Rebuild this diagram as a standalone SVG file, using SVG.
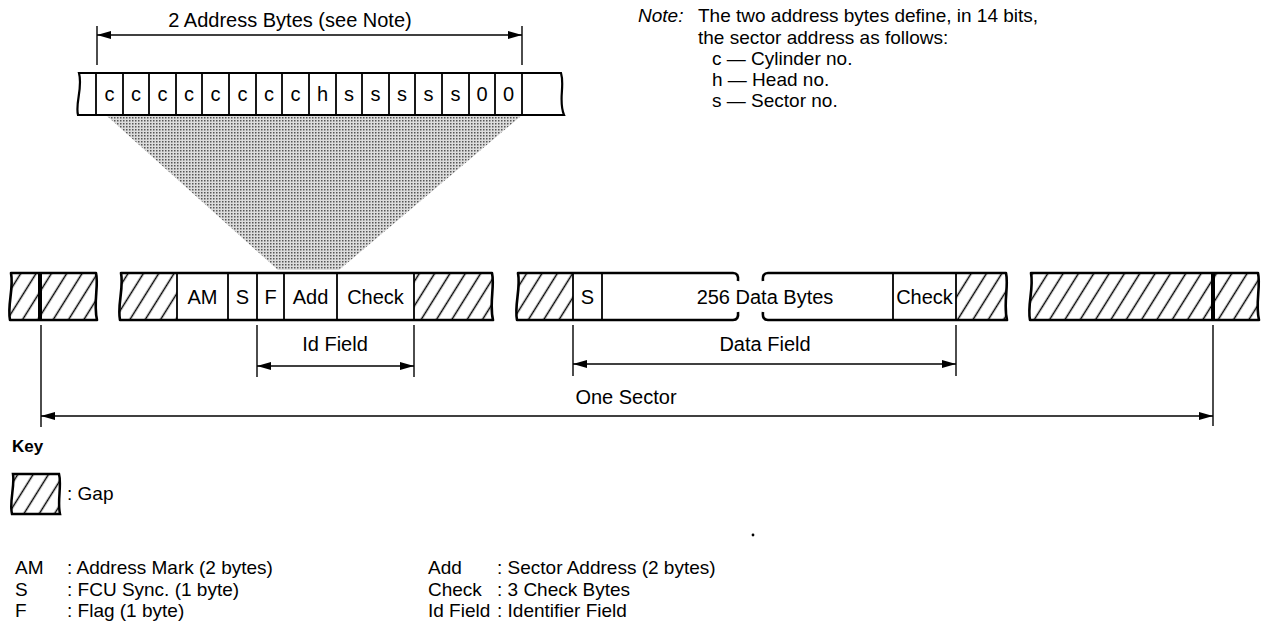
<svg xmlns="http://www.w3.org/2000/svg" width="1262" height="624" viewBox="0 0 1262 624">
<style>
text{font-family:"Liberation Sans",Arial,sans-serif;fill:#000}
.lbl{font-size:20px;text-anchor:middle}
.cell{font-size:20px;text-anchor:middle}
.note{font-size:19px}
.key{font-size:19px}
.out{fill:none;stroke:#000;stroke-width:2.6;stroke-linejoin:round}
.div{stroke:#000;stroke-width:1.8}
.thick{stroke:#000;stroke-width:4}
.dim{stroke:#000;stroke-width:1.3;fill:none}
.tick{stroke:#000;stroke-width:1.4}
</style>
<defs>
<pattern id="hatch" patternUnits="userSpaceOnUse" width="13" height="13" patternTransform="rotate(32)">
<rect width="13" height="13" fill="#fff"/>
<line x1="6.5" y1="-1" x2="6.5" y2="14" stroke="#000" stroke-width="1.5"/>
</pattern>
<pattern id="stip" patternUnits="userSpaceOnUse" width="3" height="3">
<rect width="3" height="3" fill="#dcdcdc"/>
<rect x="0" y="0" width="1.5" height="1.5" fill="#555"/>
</pattern>
<marker id="arr" viewBox="0 0 14 8" refX="14" refY="4" markerWidth="14" markerHeight="8" markerUnits="userSpaceOnUse" orient="auto-start-reverse">
<path d="M0,0 L14,4 L0,8 Z" fill="#000"/>
</marker>
</defs>

<g id="shade">
<polygon points="107,116 521,116 339,270 278,270" fill="url(#stip)"/>
</g>

<g id="address-strip">
<path d="M79,73 L561,73 C565,86 558,101 564,115 L78,115 C75,103 83,88 79,73 Z" fill="#fff" stroke="#000" stroke-width="2.2"/>
<g class="div">
<line x1="96" y1="73" x2="96" y2="115"/><line x1="123" y1="73" x2="123" y2="115"/>
<line x1="149" y1="73" x2="149" y2="115"/><line x1="176" y1="73" x2="176" y2="115"/>
<line x1="202" y1="73" x2="202" y2="115"/><line x1="229" y1="73" x2="229" y2="115"/>
<line x1="256" y1="73" x2="256" y2="115"/><line x1="282" y1="73" x2="282" y2="115"/>
<line x1="309" y1="73" x2="309" y2="115"/><line x1="336" y1="73" x2="336" y2="115"/>
<line x1="362" y1="73" x2="362" y2="115"/><line x1="389" y1="73" x2="389" y2="115"/>
<line x1="415" y1="73" x2="415" y2="115"/><line x1="442" y1="73" x2="442" y2="115"/>
<line x1="469" y1="73" x2="469" y2="115"/><line x1="495" y1="73" x2="495" y2="115"/>
<line x1="522" y1="73" x2="522" y2="115"/>
</g>
<g class="cell">
<text x="109.5" y="101">c</text><text x="136" y="101">c</text>
<text x="162.5" y="101">c</text><text x="189" y="101">c</text>
<text x="215.5" y="101">c</text><text x="242.5" y="101">c</text>
<text x="269" y="101">c</text><text x="295.5" y="101">c</text>
<text x="322.5" y="101">h</text><text x="349" y="101">s</text>
<text x="375.5" y="101">s</text><text x="402" y="101">s</text>
<text x="428.5" y="101">s</text><text x="455.5" y="101">s</text>
<text x="482" y="101">0</text><text x="508.5" y="101">0</text>
</g>
</g>

<g id="gap-block-1">
<path d="M11,273 L96,273 C99,286 93,302 97,320 L10,320 C7,305 14,289 11,273 Z" fill="url(#hatch)"/>
<line class="thick" x1="40" y1="273" x2="40" y2="320"/>
<path class="out" d="M11,273 L96,273 C99,286 93,302 97,320 L10,320 C7,305 14,289 11,273 Z"/>
</g>

<g id="id-block">
<path d="M121,273 L492,273 C495,286 489,303 493,320 L120,320 C117,305 124,289 121,273 Z" fill="url(#hatch)"/>
<rect x="177" y="273" width="237" height="47" fill="#fff"/>
<g class="div">
<line x1="177" y1="273" x2="177" y2="320"/><line x1="228" y1="273" x2="228" y2="320"/>
<line x1="257" y1="273" x2="257" y2="320"/><line x1="284" y1="273" x2="284" y2="320"/>
<line x1="337" y1="273" x2="337" y2="320"/><line x1="414" y1="273" x2="414" y2="320"/>
</g>
<path class="out" d="M121,273 L492,273 C495,286 489,303 493,320 L120,320 C117,305 124,289 121,273 Z"/>
<g class="cell">
<text x="202.5" y="304">AM</text>
<text x="242.5" y="304">S</text>
<text x="270.5" y="304">F</text>
<text x="310.5" y="304">Add</text>
<text x="375.5" y="304">Check</text>
</g>
</g>

<g id="data-block">
<path d="M518,273 L573,273 L573,320 L517,320 C514,305 521,289 518,273 Z" fill="url(#hatch)"/>
<path d="M956,273 L1006,273 C1009,286 1003,303 1007,320 L956,320 Z" fill="url(#hatch)"/>
<g class="div">
<line x1="573" y1="273" x2="573" y2="320"/><line x1="602" y1="273" x2="602" y2="320"/>
<line x1="893" y1="273" x2="893" y2="320"/><line x1="956" y1="273" x2="956" y2="320"/>
</g>
<path class="out" d="M738,281 Q739,273 733,273 L518,273 C521,289 514,305 517,320 L733,320 Q739,320 738,312"/>
<path class="out" d="M763,281 Q762,273 768,273 L1006,273 C1009,286 1003,303 1007,320 L768,320 Q762,320 763,312"/>
<g class="cell">
<text x="587.5" y="304">S</text>
<text x="765" y="304">256 Data Bytes</text>
<text x="924.5" y="304">Check</text>
</g>
</g>

<g id="gap-block-2">
<path d="M1031,273 L1258,273 C1261,286 1255,303 1259,320 L1030,320 C1027,305 1034,289 1031,273 Z" fill="url(#hatch)"/>
<line class="thick" x1="1213" y1="273" x2="1213" y2="320"/>
<path class="out" d="M1031,273 L1258,273 C1261,286 1255,303 1259,320 L1030,320 C1027,305 1034,289 1031,273 Z"/>
</g>

<g id="connectors">
<line class="tick" x1="97" y1="26" x2="97" y2="65"/>
<line class="tick" x1="522" y1="26" x2="522" y2="65"/>
<line class="dim" x1="97" y1="35" x2="522" y2="35" marker-start="url(#arr)" marker-end="url(#arr)"/>

<line class="tick" x1="257" y1="325" x2="257" y2="377"/>
<line class="tick" x1="414" y1="325" x2="414" y2="377"/>
<line class="dim" x1="257" y1="366" x2="414" y2="366" marker-start="url(#arr)" marker-end="url(#arr)"/>

<line class="tick" x1="573" y1="325" x2="573" y2="376"/>
<line class="tick" x1="956" y1="325" x2="956" y2="376"/>
<line class="dim" x1="573" y1="364" x2="956" y2="364" marker-start="url(#arr)" marker-end="url(#arr)"/>

<line class="tick" x1="41" y1="325" x2="41" y2="427"/>
<line class="tick" x1="1213" y1="325" x2="1213" y2="426"/>
<line class="dim" x1="41" y1="416" x2="1213" y2="416" marker-start="url(#arr)" marker-end="url(#arr)"/>
</g>

<g id="dim-labels">
<text class="lbl" x="290" y="27">2 Address Bytes (see Note)</text>
<text class="lbl" x="335" y="351">Id Field</text>
<text class="lbl" x="765" y="351">Data Field</text>
<text class="lbl" x="626" y="404">One Sector</text>
</g>

<g id="note">
<text class="note" x="638" y="22" font-style="italic">Note:</text>
<text class="note" x="698" y="22">The two address bytes define, in 14 bits,</text>
<text class="note" x="698" y="44">the sector address as follows:</text>
<text class="note" x="712" y="65">c — Cylinder no.</text>
<text class="note" x="712" y="86">h — Head no.</text>
<text class="note" x="712" y="107">s — Sector no.</text>
</g>

<g id="key">
<text x="12" y="452" font-size="17" font-weight="bold">Key</text>
<path d="M13,474 L59,474 C62,485 57,501 60,514 L12,514 C9,502 15,487 13,474 Z" fill="url(#hatch)" stroke="#000" stroke-width="2.5"/>
<text class="key" x="67" y="500">: Gap</text>
<text class="key" x="15" y="574">AM</text>
<text class="key" x="67" y="574">: Address Mark (2 bytes)</text>
<text class="key" x="15" y="596">S</text>
<text class="key" x="67" y="596">: FCU Sync. (1 byte)</text>
<text class="key" x="15" y="617">F</text>
<text class="key" x="67" y="617">: Flag (1 byte)</text>
<text class="key" x="428" y="574">Add</text>
<text class="key" x="497" y="574">: Sector Address (2 bytes)</text>
<text class="key" x="428" y="596">Check</text>
<text class="key" x="497" y="596">: 3 Check Bytes</text>
<text class="key" x="428" y="617">Id Field</text>
<text class="key" x="497" y="617">: Identifier Field</text>
<circle cx="753" cy="535" r="1.4" fill="#000"/>
</g>
</svg>
